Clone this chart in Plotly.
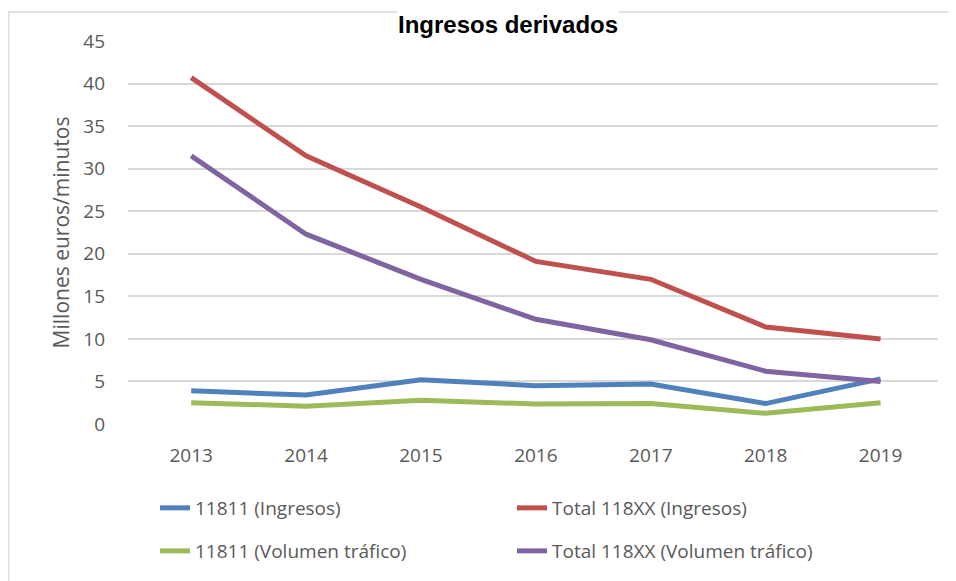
import plotly.graph_objects as go

years = ["2013", "2014", "2015", "2016", "2017", "2018", "2019"]
ingresos_11811 = [3.9, 3.4, 5.2, 4.5, 4.7, 2.4, 5.3]
ingresos_total = [40.7, 31.5, 25.5, 19.1, 17.0, 11.4, 10.0]
trafico_11811 = [2.5, 2.1, 2.8, 2.35, 2.4, 1.25, 2.5]
trafico_total = [31.5, 22.3, 17.0, 12.3, 9.9, 6.2, 5.0]
y_ticks = [0, 5, 10, 15, 20, 25, 30, 35, 40, 45]

# page body has an 8px margin, so the figure is drawn offset by 8px
OFF = 8
W, H = 956 - OFF, 581 - OFF
L, T = 128 - OFF, 41 - OFF
R = W - (938 - OFF)
B = H - (424 - OFF)
pw, ph = W - L - R, H - T - B

def px_x(x):  # page pixel -> paper x
    return (x - OFF - L) / pw

def px_y(y):  # page pixel -> paper y
    return (H - B - (y - OFF)) / ph

FONT = "Open Sans"
GREY = "#595959"

series = [
    ("11811 (Ingresos)", ingresos_11811, "#4F81BD", "legend"),
    ("Total 118XX (Ingresos)", ingresos_total, "#C0504D", "legend"),
    ("11811 (Volumen tráfico)", trafico_11811, "#9BBB59", "legend2"),
    ("Total 118XX (Volumen tráfico)", trafico_total, "#8064A2", "legend2"),
]

fig = go.Figure()
for name, vals, col, lg in series:
    fig.add_trace(go.Scatter(
        x=list(range(len(years))), y=vals, name=name, mode="lines",
        line=dict(color=col, width=5), legend=lg,
    ))

leg_common = dict(
    orientation="h", xanchor="left", yanchor="middle",
    font=dict(family=FONT, size=19, color=GREY),
    entrywidth=312, entrywidthmode="pixels",
    bgcolor="rgba(0,0,0,0)", itemwidth=30,
)

fig.update_layout(
    width=W, height=H,
    margin=dict(l=L, r=R, t=T, b=B, autoexpand=False),
    plot_bgcolor="white", paper_bgcolor="white",
    xaxis=dict(
        range=[-0.55, 6.5], tickmode="array",
        tickvals=list(range(len(years))), ticktext=years,
        showgrid=False, zeroline=False, showline=False,
        ticks="", ticklabelstandoff=18,
        tickfont=dict(family=FONT, size=19, color=GREY),
    ),
    yaxis=dict(
        range=[0, 45], tickmode="array", tickvals=y_ticks,
        showgrid=True, gridcolor="#D9D9D9", gridwidth=1.5,
        zeroline=False, showline=False, ticks="", ticklabelstandoff=22,
        tickfont=dict(family=FONT, size=19, color=GREY),
        title=dict(text="Millones euros/minutos", standoff=7,
                   font=dict(family=FONT, size=21, color=GREY)),
    ),
    legend=dict(x=px_x(155), y=px_y(508), **leg_common),
    legend2=dict(x=px_x(155), y=px_y(551), **leg_common),
    showlegend=True,
    shapes=[dict(type="rect", xref="paper", yref="paper",
                 x0=px_x(OFF + 0.5), x1=1.2, y0=-0.6, y1=px_y(12),
                 line=dict(color="#D9D9D9", width=1.5), layer="below")],
    annotations=[dict(text="<b>Ingresos derivados</b>", xref="paper", yref="paper",
                      x=px_x(508), y=px_y(10), xanchor="center", yanchor="top",
                      showarrow=False, bgcolor="white", borderpad=0,
                      font=dict(family="Liberation Sans", size=24, color="black"))],
)

fig.write_html("out.html")
